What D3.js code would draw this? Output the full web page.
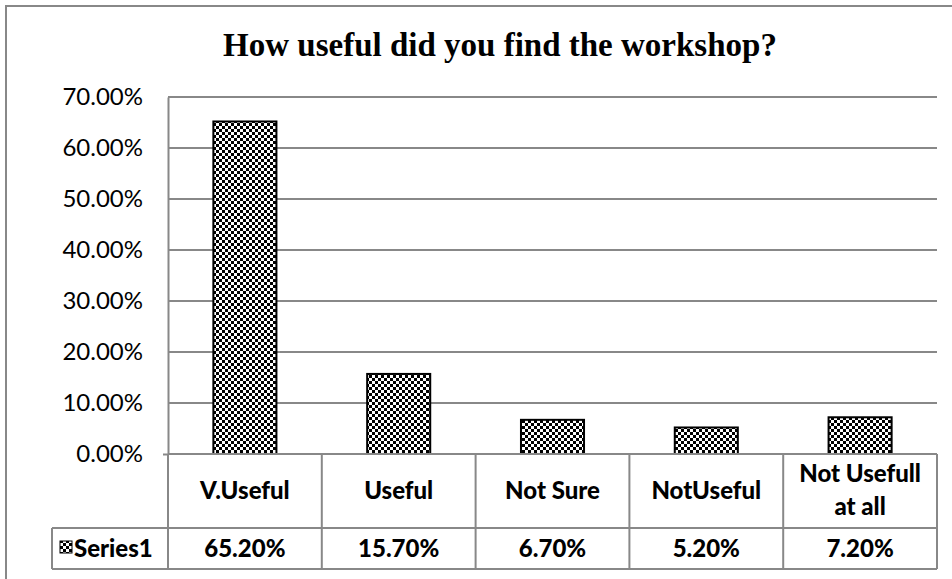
<!DOCTYPE html>
<html>
<head>
<meta charset="utf-8">
<title>How useful did you find the workshop?</title>
<script src="https://cdn.jsdelivr.net/npm/d3@7"></script>
<style>
  body { margin: 0; background: #fff; }
  svg { display: block; }
</style>
</head>
<body>
<script>
// data
var categories = ["V.Useful", "Useful", "Not Sure", "NotUseful", "Not Usefull|at all"];
var values = [0.652, 0.157, 0.067, 0.052, 0.072];
var valueLabels = ["65.20%", "15.70%", "6.70%", "5.20%", "7.20%"];
var yTicks = [0, 0.1, 0.2, 0.3, 0.4, 0.5, 0.6, 0.7];
var seriesName = "Series1";

var W = 952, H = 579;
var plotLeft = 168, plotRight = 937, plotTop = 97, zeroY = 454;
var catRowBottom = 528, valRowBottom = 569, legendLeft = 52;
var grid = "#888";

var svg = d3.select("body").append("svg")
    .attr("width", W)
    .attr("height", H);

// checkerboard fill
var defs = svg.append("defs");
var pat = defs.append("pattern")
    .attr("id", "checker")
    .attr("patternUnits", "userSpaceOnUse")
    .attr("width", 6).attr("height", 6);
pat.append("rect").attr("width", 6).attr("height", 6).attr("fill", "#fff");
pat.append("rect").attr("width", 3).attr("height", 3).attr("fill", "#000");
pat.append("rect").attr("x", 3).attr("y", 3).attr("width", 3).attr("height", 3).attr("fill", "#000");

// outer frame
svg.append("path")
    .attr("d", "M6," + H + "V6H" + W)
    .attr("fill", "none")
    .attr("stroke", grid)
    .attr("stroke-width", 2);

svg.append("text")
    .attr("x", 500).attr("y", 56)
    .attr("text-anchor", "middle")
    .style("font-family", "'Liberation Serif', 'Times New Roman', serif")
    .style("font-weight", "bold")
    .style("font-size", "33px")
    .text("How useful did you find the workshop?");

var x = d3.scaleBand().domain(categories).range([plotLeft, plotRight]).paddingInner(0).paddingOuter(0);
var y = d3.scaleLinear().domain([0, 0.7]).range([zeroY, plotTop]);

// gridlines
svg.selectAll(".grid")
    .data(yTicks.slice(1))
  .enter().append("line")
    .attr("x1", plotLeft).attr("x2", plotRight)
    .attr("y1", function(d){ return y(d); })
    .attr("y2", function(d){ return y(d); })
    .attr("stroke", grid).attr("stroke-width", 2);

// y axis labels
var yAxis = d3.axisLeft(y).tickValues(yTicks).tickSize(0).tickPadding(25)
    .tickFormat(function(d){ return (d * 100).toFixed(2) + "%"; });
var ya = svg.append("g").attr("transform", "translate(" + plotLeft + ",0)").call(yAxis);
ya.select(".domain").attr("stroke", grid).attr("stroke-width", 2);
ya.selectAll(".tick line").attr("stroke", grid).attr("stroke-width", 2)
    .attr("x2", function(d){ return d === 0 ? -5 : 0; });
ya.selectAll(".tick text")
    .style("font-family", "Lato, 'Open Sans', sans-serif")
    .style("font-size", "24px")
    .attr("fill", "#000");

// bars
var bw = x.bandwidth() * 0.41;
svg.selectAll(".bar")
    .data(values)
  .enter().append("rect")
    .attr("class", "bar")
    .attr("x", function(d, i){ return x(categories[i]) + (x.bandwidth() - bw) / 2; })
    .attr("y", function(d){ return y(d); })
    .attr("width", bw)
    .attr("height", function(d){ return zeroY - y(d); })
    .attr("fill", "url(#checker)")
    .attr("stroke", "#000")
    .attr("stroke-width", 2);

// data table
var tbl = svg.append("g").attr("stroke", grid).attr("stroke-width", 2).attr("fill", "none");
tbl.append("line").attr("x1", plotLeft).attr("x2", plotRight).attr("y1", zeroY).attr("y2", zeroY);
tbl.append("line").attr("x1", legendLeft).attr("x2", plotRight).attr("y1", catRowBottom).attr("y2", catRowBottom);
tbl.append("line").attr("x1", legendLeft).attr("x2", plotRight).attr("y1", valRowBottom).attr("y2", valRowBottom);
tbl.append("line").attr("x1", legendLeft).attr("x2", legendLeft).attr("y1", catRowBottom).attr("y2", valRowBottom);
tbl.selectAll(".col")
    .data(categories.concat(["end"]))
  .enter().append("line")
    .attr("x1", function(d, i){ return i < categories.length ? x(d) : plotRight; })
    .attr("x2", function(d, i){ return i < categories.length ? x(d) : plotRight; })
    .attr("y1", zeroY).attr("y2", valRowBottom);

var cellFont = function(sel){
  sel.style("font-family", "Lato, 'Open Sans', sans-serif")
     .style("font-weight", "900")
     .style("font-size", "24px")
     .attr("text-anchor", "middle")
     .attr("fill", "#000");
};

svg.selectAll(".cat")
    .data(categories)
  .enter().append("text")
    .call(cellFont)
    .attr("x", function(d){ return x(d) + x.bandwidth() / 2; })
    .attr("y", function(d){ return d.indexOf("|") >= 0 ? 482 : 499; })
    .each(function(d){
      var parts = d.split("|");
      var t = d3.select(this);
      parts.forEach(function(p, j){
        t.append("tspan").attr("x", x(d) + x.bandwidth() / 2).attr("dy", j ? 33 : 0).text(p);
      });
    });

svg.selectAll(".val")
    .data(valueLabels)
  .enter().append("text")
    .call(cellFont)
    .attr("x", function(d, i){ return x(categories[i]) + x.bandwidth() / 2; })
    .attr("y", 557)
    .text(function(d){ return d; });

// legend key in table
svg.append("rect")
    .attr("x", 60).attr("y", 541).attr("width", 12).attr("height", 12)
    .attr("fill", "url(#checker)").attr("stroke", "#000").attr("stroke-width", 1);
svg.append("text")
    .call(cellFont)
    .attr("text-anchor", "start")
    .attr("x", 74).attr("y", 557)
    .text(seriesName);
</script>
</body>
</html>
